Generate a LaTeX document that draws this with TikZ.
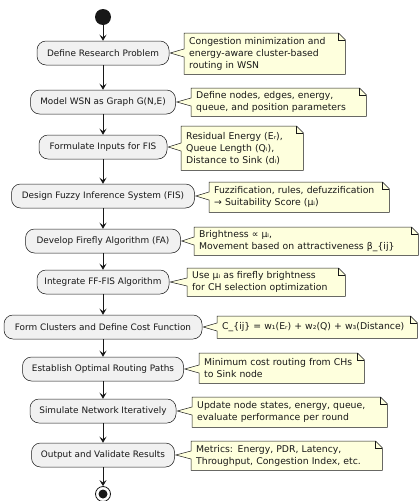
\documentclass[tikz,border=0pt]{standalone}
\usepackage{fontspec}
\setmainfont{DejaVu Sans}
\usetikzlibrary{arrows.meta,calc,backgrounds}
\definecolor{actfill}{HTML}{F1F1F1}
\definecolor{notefill}{HTML}{FEFFDD}
\definecolor{ink}{HTML}{181818}
\newcommand\noteoutline[2]{%
  \begin{pgfonlayer}{background}
  \draw[notebd]
    (#1.north west) -- ($(#1.north east)+(-7,0)$) -- ($(#1.north east)+(0,7)$)
    -- (#1.south east) -- (#1.south west)
    -- ($(#1.west |- #2.east)+(0,4)$) -- ($(#2.east)+(1,0)$)
    -- ($(#1.west |- #2.east)+(0,-4)$) -- cycle;
  \draw[ink, line width=0.5pt] ($(#1.north east)+(-7,0)$) -- ($(#1.north east)+(-7,7)$) -- ($(#1.north east)+(0,7)$);
  \end{pgfonlayer}}
\newcommand\nline[1]{\mbox{#1}}
\begin{document}
\begin{tikzpicture}[x=1pt,y=-1pt,
  act/.style={draw=ink, fill=actfill, rounded corners=9pt, line width=0.5pt,
    minimum height=24pt, inner sep=0pt, font=\fontsize{8.9}{10}\selectfont, text=ink},
  notebox/.style={anchor=north west, inner xsep=5pt, inner ysep=0pt, align=left,
    font=\fontsize{9.3}{12}\selectfont, text=ink},
  notebd/.style={draw=ink, fill=notefill, line width=0.5pt},
  arr/.style={draw=ink, line width=0.7pt, -{Stealth[length=6pt,width=7pt,inset=2.5pt]}}]
\useasboundingbox (0,0) rectangle (419,501);

\node[circle, fill=ink, minimum size=16pt, inner sep=0pt] (start) at (103,17) {};

\node[act, minimum width=132pt] (b1) at (103,53) {Define Research Problem};
\node[act, minimum width=145pt] (b2) at (103,102) {Model WSN as Graph G(N,E)};
\node[act, minimum width=128pt] (b3) at (103,147) {Formulate Inputs for FIS};
\node[act, minimum width=183pt] (b4) at (103,196) {Design Fuzzy Inference System (FIS)};
\node[act, minimum width=155pt] (b5) at (103,241) {Develop Firefly Algorithm (FA)};
\node[act, minimum width=132pt] (b6) at (103,282) {Integrate FF-FIS Algorithm};
\node[act, minimum width=198pt] (b7) at (103,327) {Form Clusters and Define Cost Function};
\node[act, minimum width=161pt] (b8) at (103,369) {Establish Optimal Routing Paths};
\node[act, minimum width=146pt] (b9) at (103,411) {Simulate Network Iteratively};
\node[act, minimum width=143pt] (b10) at (103,455) {Output and Validate Results};

\node[circle, draw=ink, line width=0.8pt, minimum size=15pt, inner sep=0pt,
  path picture={\fill[ink] (path picture bounding box.center) circle (4.5pt);}] (end) at (103,494) {};

\draw[arr] (start) -- (b1);
\draw[arr] (b1) -- (b2);
\draw[arr] (b2) -- (b3);
\draw[arr] (b3) -- (b4);
\draw[arr] (b4) -- (b5);
\draw[arr] (b5) -- (b6);
\draw[arr] (b6) -- (b7);
\draw[arr] (b7) -- (b8);
\draw[arr] (b8) -- (b9);
\draw[arr] (b9) -- (b10);
\draw[arr] (b10) -- (end);

\node[notebox, minimum width=161pt, minimum height=41pt, text width=151pt] (n1) at (184,33)
  {\nline{Congestion minimization and}\\\nline{energy-aware cluster-based}\\\nline{routing in WSN}};
\node[notebox, minimum width=175pt, minimum height=28pt, text width=165pt] (n2) at (191,88)
  {\nline{Define nodes, edges, energy,}\\\nline{queue, and position parameters}};
\node[notebox, minimum width=122pt, minimum height=44pt, text width=112pt] (n3) at (181,126)
  {\nline{Residual Energy (Eᵣ),}\\\nline{Queue Length (Qᵢ),}\\\nline{Distance to Sink (dᵢ)}};
\node[notebox, minimum width=180pt, minimum height=30pt, text width=170pt] (n4) at (209,182)
  {\nline{Fuzzification, rules, defuzzification}\\\nline{→ Suitability Score (μᵢ)}};
\node[notebox, minimum width=224pt, minimum height=28pt, text width=214pt] (n5) at (194,227)
  {\nline{Brightness ∝ μᵢ,}\\\nline{Movement based on attractiveness β\_\{ij\}}};
\node[notebox, minimum width=158pt, minimum height=28pt, text width=148pt] (n6) at (187,268)
  {\nline{Use μᵢ as firefly brightness}\\\nline{for CH selection optimization}};
\node[notebox, minimum width=200pt, minimum height=22pt, text width=190pt] (n7) at (217,316)
  {\nline{C\_\{ij\} = w₁(Eᵣ) + w₂(Q) + w₃(Distance)}};
\node[notebox, minimum width=165pt, minimum height=30pt, text width=155pt] (n8) at (199,353)
  {\nline{Minimum cost routing from CHs}\\\nline{to Sink node}};
\node[notebox, minimum width=195pt, minimum height=30pt, text width=185pt] (n9) at (192,397)
  {\nline{Update node states, energy, queue,}\\\nline{evaluate performance per round}};
\node[notebox, minimum width=191pt, minimum height=29pt, text width=181pt] (n10) at (191,441)
  {\nline{Metrics: Energy, PDR, Latency,}\\\nline{Throughput, Congestion Index, etc.}};

\noteoutline{n1}{b1}
\noteoutline{n2}{b2}
\noteoutline{n3}{b3}
\noteoutline{n4}{b4}
\noteoutline{n5}{b5}
\noteoutline{n6}{b6}
\noteoutline{n7}{b7}
\noteoutline{n8}{b8}
\noteoutline{n9}{b9}
\noteoutline{n10}{b10}
\end{tikzpicture}
\end{document}
